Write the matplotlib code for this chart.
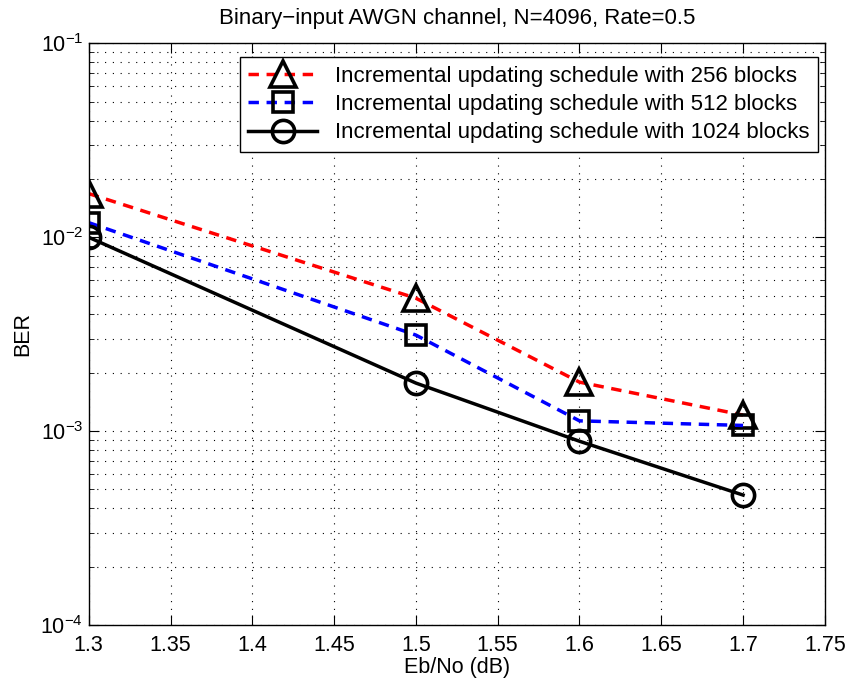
import numpy as np
import matplotlib
matplotlib.use("Agg")
from matplotlib import pyplot as plt
from matplotlib.ticker import LogLocator, NullFormatter, MultipleLocator, FuncFormatter

plt.rcParams['font.family'] = ['Liberation Sans', 'DejaVu Sans']
plt.rcParams['mathtext.fontset'] = 'custom'
plt.rcParams['mathtext.rm'] = 'Liberation Sans'
plt.rcParams['mathtext.it'] = 'Liberation Sans'

# Eb/No points and BER for each block count
ebno = [1.3, 1.5, 1.6, 1.7]
ber_256 = [0.0168, 0.00485, 0.00179, 0.00121]
ber_512 = [0.0119, 0.00313, 0.00113, 0.00107]
ber_1024 = [0.0100, 0.00177, 0.000887, 0.000468]
labels = ['Incremental updating schedule with 256 blocks',
          'Incremental updating schedule with 512 blocks',
          'Incremental updating schedule with 1024 blocks']

fig = plt.figure(figsize=(8.53, 6.85), dpi=100)
ax = fig.add_axes([0.104, 0.0876, 0.863, 0.849])

mk = dict(markeredgewidth=2.6, markeredgecolor='k', markerfacecolor='none')
dash = (0, (3, 2.2))
ax.semilogy(ebno, ber_256, color='r', ls=dash, lw=2.5, marker='^', markersize=19, label=labels[0], **mk)
ax.semilogy(ebno, ber_512, color='b', ls=dash, lw=2.5, marker='s', markersize=14, label=labels[1], **mk)
ax.semilogy(ebno, ber_1024, color='k', ls='-', lw=2.5, marker='o', markersize=16, label=labels[2], **mk)

ax.set_xlim(1.3, 1.75)
ax.set_ylim(1e-4, 1e-1)
ax.xaxis.set_major_locator(MultipleLocator(0.05))
ax.xaxis.set_major_formatter(FuncFormatter(lambda v, p: ('%.2f' % v).rstrip('0').rstrip('.')))
ax.yaxis.set_major_locator(LogLocator(base=10, numticks=10))
ax.yaxis.set_minor_locator(LogLocator(base=10, subs=np.arange(2, 10), numticks=20))
ax.yaxis.set_minor_formatter(NullFormatter())

# dotted grid on every major x tick and every decade/sub-decade on y
ax.grid(True, which='major', color='k', ls=(0, (1, 6)), lw=0.8)
ax.grid(True, which='minor', axis='y', color='k', ls=(0, (1, 6)), lw=0.8)
ax.tick_params(which='both', direction='in', top=True, right=True, labelsize=15.5)
ax.tick_params(axis='x', pad=7)
ax.tick_params(axis='y', pad=4)
ax.tick_params(which='major', length=7)
ax.tick_params(which='minor', length=3.5)
for s in ax.spines.values():
    s.set_linewidth(1.0)

ax.set_xlabel('Eb/No (dB)', fontsize=15.5, labelpad=1)
ax.set_ylabel('BER', fontsize=15.5, labelpad=5)
ax.set_title('Binary\u2212input AWGN channel, N=4096, Rate=0.5', fontsize=16, pad=14)

leg = ax.legend(loc='upper right', bbox_to_anchor=(0.9905, 0.976), borderaxespad=0,
                fontsize=16, fancybox=False, framealpha=1, edgecolor='k',
                handlelength=3.1, labelspacing=0.33, handletextpad=0.8,
                borderpad=0.38)
leg.get_frame().set_linewidth(1.0)

fig.savefig('out.png', dpi=100)
